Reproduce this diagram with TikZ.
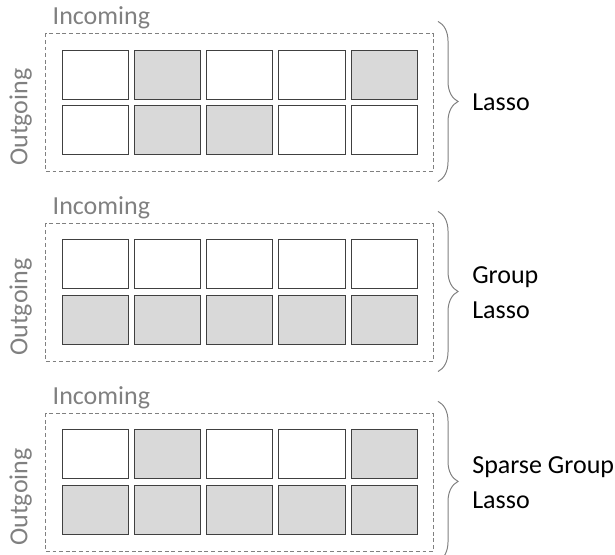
\documentclass[tikz,border=0pt]{standalone}
\usepackage{fontspec}
\setmainfont{Carlito}
\usepackage{tikz}
\usetikzlibrary{
    positioning,
    fit,
    calc,
    decorations.pathreplacing
}
\definecolor{cellgray}{HTML}{D9D9D9}
\definecolor{linegray}{HTML}{404040}
\definecolor{textgray}{HTML}{808080}

\begin{document}
\begin{tikzpicture}[
    node distance=0.15cm and 0.125cm,
    cell/.style={
        rectangle,
        draw=linegray,
        line width=0.7pt,
        fill=white,
        inner sep=0pt,
        minimum width=1.6575cm,
        minimum height=1.225cm
    },
    active/.style={
        cell,
        fill=cellgray
    },
    frame/.style={
        rectangle,
        draw=textgray,
        dash pattern=on 2.8pt off 1.9pt,
        line width=0.7pt,
        inner sep=0.39cm
    },
    axislabel/.style={
        text=textgray,
        inner sep=0pt,
        font=\fontsize{18.5}{22}\selectfont
    },
    method/.style={
        align=left,
        inner sep=0pt,
        font=\fontsize{18.5}{25}\selectfont
    },
    brace/.style={
        decorate,
        decoration={brace, amplitude=0.5cm},
        draw=textgray,
        line width=0.7pt
    }
]
\useasboundingbox (0,0) rectangle (15.375,13.875);

% Lasso
\node[cell] (a11) at (2.379,12.0125) {};
\node[active, right=of a11] (a12) {};
\node[cell, right=of a12] (a13) {};
\node[cell, right=of a13] (a14) {};
\node[active, right=of a14] (a15) {};
\node[cell, below=of a11] (a21) {};
\node[active, right=of a21] (a22) {};
\node[active, right=of a22] (a23) {};
\node[cell, right=of a23] (a24) {};
\node[cell, right=of a24] (a25) {};
\node[frame, fit=(a11)(a25)] (fa) {};

% Group Lasso
\node[cell, below=2.1cm of a21] (b11) {};
\node[cell, right=of b11] (b12) {};
\node[cell, right=of b12] (b13) {};
\node[cell, right=of b13] (b14) {};
\node[cell, right=of b14] (b15) {};
\node[active, below=of b11] (b21) {};
\node[active, right=of b21] (b22) {};
\node[active, right=of b22] (b23) {};
\node[active, right=of b23] (b24) {};
\node[active, right=of b24] (b25) {};
\node[frame, fit=(b11)(b25)] (fb) {};

% Sparse Group Lasso
\node[cell, below=2.1cm of b21] (c11) {};
\node[active, right=of c11] (c12) {};
\node[cell, right=of c12] (c13) {};
\node[cell, right=of c13] (c14) {};
\node[active, right=of c14] (c15) {};
\node[active, below=of c11] (c21) {};
\node[active, right=of c21] (c22) {};
\node[active, right=of c22] (c23) {};
\node[active, right=of c23] (c24) {};
\node[active, right=of c24] (c25) {};
\node[frame, fit=(c11)(c25)] (fc) {};

% Achsen
\node[axislabel, anchor=base west] (ina) at ($(fa.north west)+(0.175,0.225)$) {Incoming};
\node[axislabel, anchor=base west] (inb) at ($(fb.north west)+(0.175,0.225)$) {Incoming};
\node[axislabel, anchor=base west] (inc) at ($(fc.north west)+(0.175,0.225)$) {Incoming};
\node[axislabel, rotate=90, anchor=base west] (outa) at ($(fa.south west)+(-0.45,0.14)$) {Outgoing};
\node[axislabel, rotate=90, anchor=base west] (outb) at ($(fb.south west)+(-0.45,0.14)$) {Outgoing};
\node[axislabel, rotate=90, anchor=base west] (outc) at ($(fc.south west)+(-0.45,0.14)$) {Outgoing};

% Klammern
\draw[brace] ($(fa.north east)+(0.1,0.3)$) -- ($(fa.south east)+(0.1,-0.25)$);
\draw[brace] ($(fb.north east)+(0.1,0.3)$) -- ($(fb.south east)+(0.1,-0.25)$);
\draw[brace] ($(fc.north east)+(0.1,0.3)$) -- ($(fc.south east)+(0.1,-0.25)$);
\node[method, right=0.95cm of fa.east] (la) {Lasso};
\node[method, right=0.95cm of fb.east] (lb) {Group\\Lasso};
\node[method, right=0.95cm of fc.east] (lc) {Sparse Group\\Lasso};

\end{tikzpicture}
\end{document}
